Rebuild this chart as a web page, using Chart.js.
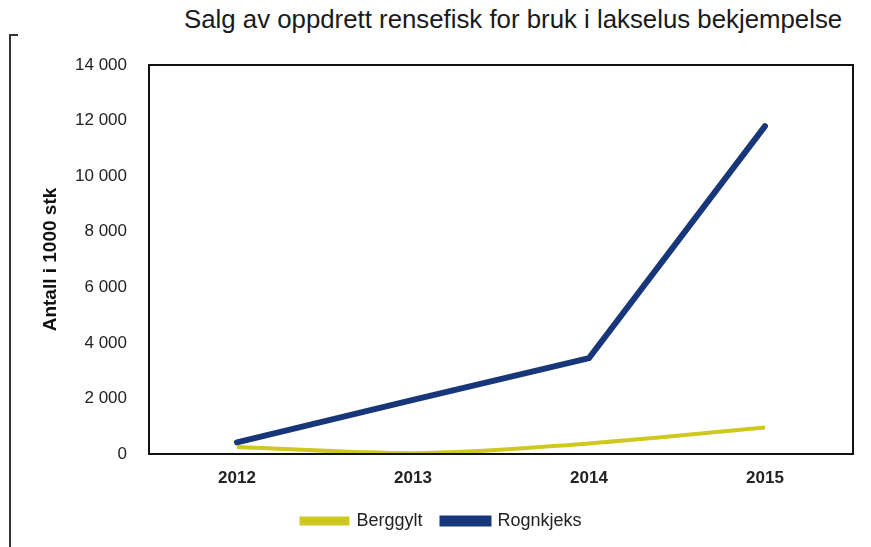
<!DOCTYPE html>
<html>
<head>
<meta charset="utf-8">
<script src="https://cdn.jsdelivr.net/npm/chart.js@4.4.0/dist/chart.umd.min.js"></script>
<style>
  html, body { margin: 0; padding: 0; background: #fff; }
  #wrap { position: relative; width: 871px; height: 547px; }
  #frame { position: absolute; left: 9px; top: 34px; width: 7px; height: 513px;
           border-left: 2px solid #333; border-top: 2px solid #333; }
  #tittel { position: absolute; left: 184px; top: 5px; font-family: "Liberation Sans", Arial, sans-serif;
            font-size: 25.8px; color: #1a1a1a; white-space: nowrap; }
  canvas { position: absolute; left: 0; top: 0; }
</style>
</head>
<body>
<div id="wrap">
  <div id="frame"></div>
  <div id="tittel">Salg av oppdrett rensefisk for bruk i lakselus bekjempelse</div>
  <canvas id="graf" width="871" height="547"></canvas>
</div>
<script>
// Verdier lest av figuren (antall i 1000 stk)
const aar = ['2012', '2013', '2014', '2015'];
const berggylt = [250, 30, 380, 950];
const rognkjeks = [420, 1950, 3450, 11800];

const font = '"Liberation Sans", Arial, sans-serif';

const rammePlugin = {
    id: 'ramme',
    afterDatasetsDraw(chart) {
        const a = chart.chartArea;
        const ctx = chart.ctx;
        ctx.save();
        ctx.strokeStyle = '#111';
        ctx.lineWidth = 2;
        ctx.strokeRect(a.left, a.top, a.right - a.left, a.bottom - a.top);
        ctx.restore();
    }
};

document.addEventListener("DOMContentLoaded", function () {
    new Chart(document.getElementById('graf'), {
        type: 'line',
        data: {
            labels: aar,
            datasets: [
                { label: 'Berggylt', data: berggylt, borderColor: '#cfc820', backgroundColor: '#c2bb2a',
                  borderWidth: 4, pointRadius: 0, tension: 0.4, cubicInterpolationMode: 'monotone' },
                { label: 'Rognkjeks', data: rognkjeks, borderColor: '#17377a', backgroundColor: '#17377a',
                  borderWidth: 6, pointRadius: 0, tension: 0, borderCapStyle: 'round' }
            ]
        },
        options: {
            responsive: false,
            animation: false,
            layout: { padding: { top: 65, right: 18, left: 30, bottom: 7 } },
            plugins: {
                legend: {
                    position: 'bottom',
                    labels: {
                        boxWidth: 46, boxHeight: 5, padding: 20,
                        color: '#222',
                        font: { family: font, size: 18 }
                    }
                },
                tooltip: { enabled: false }
            },
            scales: {
                x: {
                    offset: true,
                    grid: { display: false },
                    border: { display: false },
                    afterFit: s => { s.height = 38; },
                    ticks: { color: '#222', padding: 6, font: { family: font, size: 17, weight: 'bold' } }
                },
                y: {
                    min: 0, max: 14000,
                    grid: { display: false },
                    border: { display: false },
                    afterFit: s => { s.width = 119; },
                    ticks: {
                        stepSize: 2000, color: '#222', padding: 14,
                        font: { family: font, size: 17 },
                        callback: v => v >= 1000 ? Math.floor(v / 1000) + ' ' + String(v % 1000).padStart(3, '0') : String(v)
                    },
                    title: {
                        display: true, text: 'Antall i 1000 stk', color: '#111',
                        padding: { top: 9, bottom: 0 },
                        font: { family: font, size: 19, weight: 'bold' }
                    }
                }
            }
        },
        plugins: [rammePlugin]
    });
});
</script>
</body>
</html>
